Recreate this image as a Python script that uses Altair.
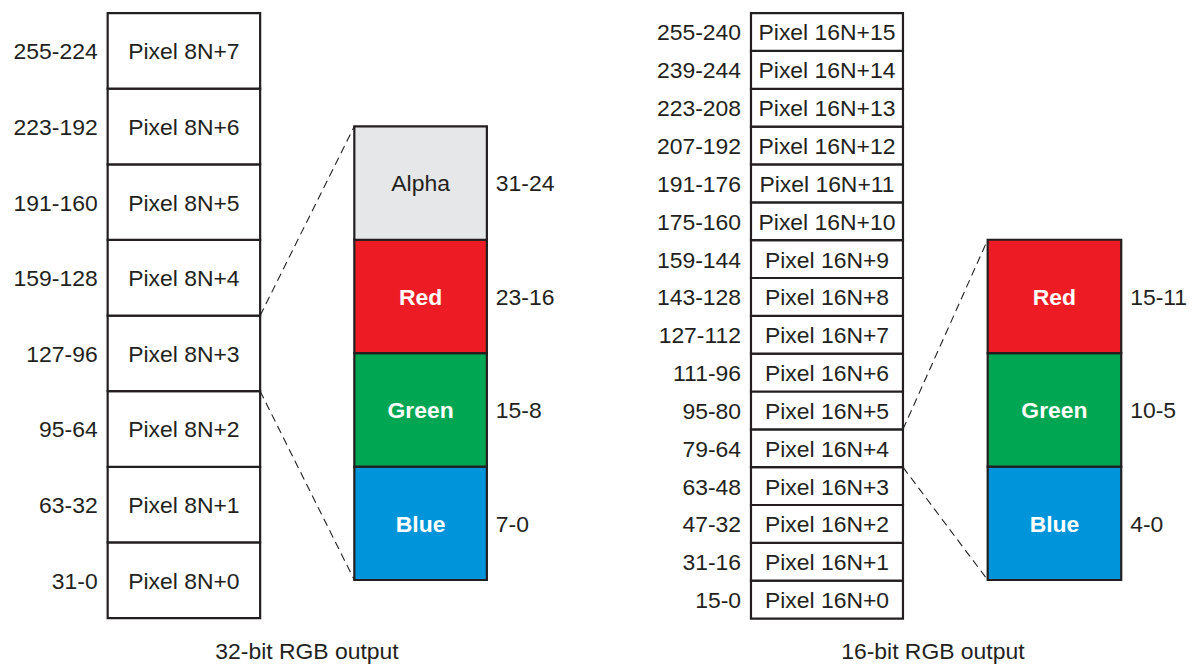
import altair as alt
import pandas as pd

# ---------------- data ----------------
pixels32 = ["Pixel 8N+0", "Pixel 8N+1", "Pixel 8N+2", "Pixel 8N+3",
            "Pixel 8N+4", "Pixel 8N+5", "Pixel 8N+6", "Pixel 8N+7"]
bits32 = ["31-0", "63-32", "95-64", "127-96", "159-128", "191-160", "223-192", "255-224"]

pixels16 = ["Pixel 16N+0", "Pixel 16N+1", "Pixel 16N+2", "Pixel 16N+3",
            "Pixel 16N+4", "Pixel 16N+5", "Pixel 16N+6", "Pixel 16N+7",
            "Pixel 16N+8", "Pixel 16N+9", "Pixel 16N+10", "Pixel 16N+11",
            "Pixel 16N+12", "Pixel 16N+13", "Pixel 16N+14", "Pixel 16N+15"]
bits16 = ["15-0", "31-16", "47-32", "63-48", "79-64", "95-80", "111-96", "127-112",
          "143-128", "159-144", "175-160", "191-176", "207-192", "223-208", "239-244", "255-240"]

comp32 = ["Blue", "Green", "Red", "Alpha"]
compbits32 = ["7-0", "15-8", "23-16", "31-24"]
comp16 = ["Blue", "Green", "Red"]
compbits16 = ["4-0", "10-5", "15-11"]

comp_fill = {"Alpha": "#e6e7e8", "Red": "#ed1c24", "Green": "#00a651", "Blue": "#0095da"}
captions = ["32-bit RGB output", "16-bit RGB output"]
zoomed32 = 3   # index of pixel expanded in 32-bit panel
zoomed16 = 4   # index of pixel expanded in 16-bit panel

# ---------------- layout ----------------
INK = "#231f20"
FONT = "Liberation Sans"
FS = 23
W, H = 1180, 650

L_X0, L_X1, L_BOT, L_TOP = 108, 261, 619, 12
C32_X0, C32_X1, C_BOT, C_H = 355.5, 488.5, 580.8, 113.8
R_X0, R_X1, R_BOT, R_TOP = 753.5, 906, 619.5, 12
C16_X0, C16_X1 = 991, 1125

lh = (L_BOT - L_TOP) / len(pixels32)
rh = (R_BOT - R_TOP) / len(pixels16)

rects, txt_c, txt_b, txt_r, txt_l = [], [], [], [], []

for i, (p, b) in enumerate(zip(pixels32, bits32)):
    y0 = L_BOT - i * lh
    rects.append(dict(x=L_X0, x2=L_X1, y=y0, y2=y0 - lh, fill="white"))
    txt_c.append(dict(x=(L_X0 + L_X1) / 2, y=y0 - lh / 2, t=p))
    txt_r.append(dict(x=L_X0 - 10, y=y0 - lh / 2, t=b))

for i, (p, b) in enumerate(zip(pixels16, bits16)):
    y0 = R_BOT - i * rh
    rects.append(dict(x=R_X0, x2=R_X1, y=y0, y2=y0 - rh, fill="white"))
    txt_c.append(dict(x=(R_X0 + R_X1) / 2, y=y0 - rh / 2, t=p))
    txt_r.append(dict(x=R_X0 - 10, y=y0 - rh / 2, t=b))

for comps, cbits, x0, x1 in [(comp32, compbits32, C32_X0, C32_X1),
                             (comp16, compbits16, C16_X0, C16_X1)]:
    for i, (c, b) in enumerate(zip(comps, cbits)):
        y0 = C_BOT - i * C_H
        rects.append(dict(x=x0, x2=x1, y=y0, y2=y0 - C_H, fill=comp_fill[c]))
        row = dict(x=(x0 + x1) / 2, y=y0 - C_H / 2, t=c)
        (txt_c if c == "Alpha" else txt_b).append(row)
        txt_l.append(dict(x=x1 + 9, y=y0 - C_H / 2, t=b))

lines = [
    dict(x=L_X1, y=L_BOT - (zoomed32 + 1) * lh, x2=C32_X0, y2=C_BOT - len(comp32) * C_H),
    dict(x=L_X1, y=L_BOT - zoomed32 * lh, x2=C32_X0, y2=C_BOT),
    dict(x=R_X1, y=R_BOT - (zoomed16 + 1) * rh, x2=C16_X0, y2=C_BOT - len(comp16) * C_H),
    dict(x=R_X1, y=R_BOT - zoomed16 * rh, x2=C16_X0, y2=C_BOT),
]
caps = [dict(x=308, y=652, t=captions[0]), dict(x=936, y=652, t=captions[1])]

xs = alt.Scale(domain=[8, 8 + W], nice=False, zero=False)
ys = alt.Scale(domain=[8, 8 + H], nice=False, zero=False, reverse=True)
X = lambda f="x": alt.X(f"{f}:Q", scale=xs, axis=None)
Y = lambda f="y": alt.Y(f"{f}:Q", scale=ys, axis=None)

rect_layer = alt.Chart(pd.DataFrame(rects)).mark_rect(stroke=INK, strokeWidth=2.2).encode(
    x=X(), x2="x2:Q", y=Y(), y2="y2:Q", fill=alt.Fill("fill:N", scale=None))

line_layer = alt.Chart(pd.DataFrame(lines)).mark_rule(
    color=INK, strokeWidth=1.1, strokeDash=[8, 5]).encode(
    x=X(), x2="x2:Q", y=Y(), y2="y2:Q")

def text_layer(rows, align, color=INK, weight="normal", dy=1.5):
    return alt.Chart(pd.DataFrame(rows)).mark_text(
        align=align, baseline="middle", font=FONT, fontSize=FS, color=color,
        fontWeight=weight, dy=dy).encode(x=X(), y=Y(), text="t:N")

chart = alt.layer(
    rect_layer,
    line_layer,
    text_layer(txt_c, "center"),
    text_layer(txt_b, "center", color="white", weight="bold"),
    text_layer(txt_r, "right"),
    text_layer(txt_l, "left"),
    text_layer(caps, "center"),
).properties(
    width=W, height=H,
    autosize=alt.AutoSizeParams(type="none"),
    padding={"left": 0, "top": 0, "right": 4, "bottom": 8},
).configure_view(stroke=None)

chart.save("out.html", embed_options={"renderer": "svg", "actions": False})
